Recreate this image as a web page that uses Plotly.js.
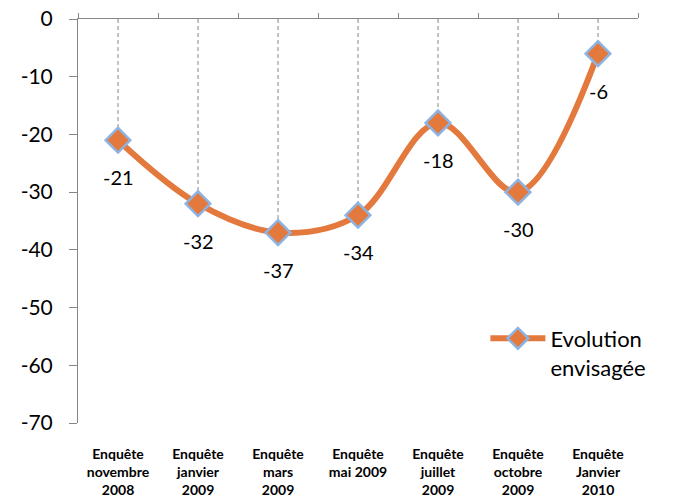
<!DOCTYPE html>
<html><head><meta charset="utf-8">
<script src="https://cdn.plot.ly/plotly-3.0.1.min.js"></script>
<style>body{margin:0;background:#fff}#c{width:675px;height:504px}</style>
</head><body><div id="c"></div>
<script>
var categories = ["Enquête<br>novembre<br>2008","Enquête<br>janvier<br>2009","Enquête<br>mars<br>2009","Enquête<br>mai 2009","Enquête<br>juillet<br>2009","Enquête<br>octobre<br>2009","Enquête<br>Janvier<br>2010"];
var values = [-21,-32,-37,-34,-18,-30,-6];
var seriesName = "Evolution<br>envisagée";
var yTicks = [0,-10,-20,-30,-40,-50,-60,-70];
var yTickText = ["0","-10","-20","-30","-40","-50","-60","-70"];

var orange = "#E3793C", blue = "#8DB3E2", gray = "#868686";
var font = "Lato, 'Open Sans', sans-serif";

// dashed drop lines from 0 to each point
var dx = [], dy = [];
categories.forEach(function(c,i){ dx.push(c,c,null); dy.push(0,values[i],null); });

var traces = [
 {x: dx, y: dy, mode: "lines", line: {color: gray, width: 1, dash: "4px,3px"}, showlegend: false, hoverinfo: "skip"},
 {x: categories, y: values, name: seriesName, mode: "lines+markers",
  line: {color: orange, width: 6, shape: "spline", smoothing: 1},
  marker: {symbol: "diamond", size: 19, color: orange, line: {color: blue, width: 2.5}}},
 {x: categories, y: values, xaxis: "x2", mode: "none", showlegend: false, hoverinfo: "skip"}
];

var annotations = values.map(function(v,i){
  return {x: categories[i], y: v, text: String(v), showarrow: false, yshift: -37,
          font: {family: font, size: 20, color: "#000"}};
});

var layout = {
  width: 675, height: 504,
  margin: {l: 78, r: 37, t: 19, b: 81},
  paper_bgcolor: "#fff", plot_bgcolor: "#fff",
  font: {family: font, color: "#000"},
  xaxis: {type: "category", showline: false, ticks: "", showgrid: false, zeroline: false,
          tickfont: {family: font, size: 14, color: "#000", weight: "bold"}, ticklabelstandoff: 21,
          range: [-0.5, 6.5]},
  xaxis2: {type: "category", overlaying: "x", side: "top", showline: true, linecolor: gray, linewidth: 1,
           ticks: "outside", ticklen: 5, tickcolor: gray, tickson: "boundaries", showticklabels: false,
           showgrid: false, range: [-0.5, 6.5]},
  yaxis: {range: [-70, 0], tickvals: yTicks, ticktext: yTickText, showline: true, linecolor: gray, linewidth: 1,
          ticks: "outside", ticklen: 8, tickcolor: gray, showgrid: false, zeroline: false,
          tickfont: {family: font, size: 21, color: "#000"}, ticklabelstandoff: 12},
  showlegend: true,
  legend: {x: 0.7275, y: 0.261, xanchor: "left", yanchor: "top", valign: "top", bgcolor: "rgba(0,0,0,0)",
           font: {family: font, size: 22, color: "#000"}, itemwidth: 55},
  annotations: annotations
};
Plotly.newPlot("c", traces, layout, {staticPlot: true});
</script></body></html>
